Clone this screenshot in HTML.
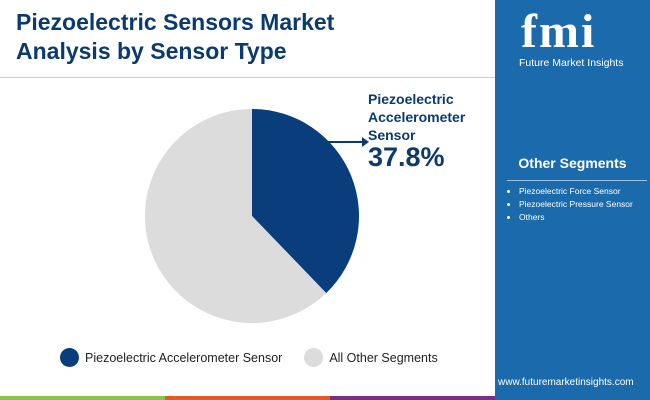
<!DOCTYPE html>
<html><head><meta charset="utf-8"><style>
body{margin:0;width:650px;height:400px;position:relative;overflow:hidden;background:#fff;font-family:"Liberation Sans",sans-serif}
.abs{position:absolute}
</style></head><body>
<div class="abs" style="left:16px;top:8px;font-size:23px;font-weight:bold;color:#0b3a6e;line-height:29px">Piezoelectric Sensors Market<br>Analysis by Sensor Type</div>
<div class="abs" style="left:0;top:77px;width:495px;height:1px;background:#ccc"></div>
<svg class="abs" style="left:0;top:0" width="495" height="400">
<g id="pie"></g>
<path d="M328 142 L362 142" stroke="#0b3a6e" stroke-width="2" fill="none"/>
<path d="M362 137 L369 142 L362 147 Z" fill="#0b3a6e"/>
</svg>
<div class="abs" style="left:368px;top:90px;font-size:14px;font-weight:bold;color:#0b3a6e;line-height:18px">Piezoelectric<br>Accelerometer<br>Sensor</div>
<div class="abs" style="left:368px;top:142px;font-size:27px;font-weight:bold;color:#0b3a6e">37.8%</div>
<div class="abs" style="left:60px;top:348px;font-size:12.5px;color:#222;display:flex;align-items:center">
<span style="width:19px;height:19px;border-radius:50%;background:#0a3d7c;display:inline-block;margin-right:6px"></span><span>Piezoelectric Accelerometer Sensor</span>
<span style="width:19px;height:19px;border-radius:50%;background:#dcdcdc;display:inline-block;margin:0 6px 0 22px"></span><span>All Other Segments</span>
</div>
<div class="abs" style="left:0;top:396px;width:165px;height:4px;background:#8bc34a"></div>
<div class="abs" style="left:165px;top:396px;width:165px;height:4px;background:#e35a26"></div>
<div class="abs" style="left:330px;top:396px;width:165px;height:4px;background:#7b2d8b"></div>
<div class="abs" style="left:495px;top:0;width:155px;height:400px;background:#1b6aac;color:#fff">
<div style="position:absolute;left:26px;top:4px;font-size:48px;font-weight:bold;font-family:'Liberation Serif',serif;letter-spacing:2px">fmi</div>
<div style="position:absolute;left:24px;top:57px;font-size:10.5px">Future Market Insights</div>
<div style="position:absolute;left:0;width:155px;text-align:center;top:155px;font-size:14px;font-weight:bold">Other Segments</div>
<div style="position:absolute;left:12px;top:180px;width:140px;height:1px;background:#9cc1e0"></div>
<ul style="position:absolute;left:0;top:185px;margin:0;padding-left:24px;font-size:8.5px;line-height:13px">
<li>Piezoelectric Force Sensor</li>
<li>Piezoelectric Pressure Sensor</li>
<li>Others</li>
</ul>
<div style="position:absolute;left:3px;top:377px;font-size:10px">www.futuremarketinsights.com</div>
</div>
<script>
const categories=["Piezoelectric Accelerometer Sensor","All Other Segments"];
const values=[37.8,62.2];
const colors=["#0a3d7c","#dcdcdc"];
const g=document.getElementById('pie');
const cx=252,cy=216,r=107;
const total=values.reduce((a,b)=>a+b,0);
let a0=-Math.PI/2;
values.forEach((v,i)=>{
  const a1=a0+v/total*2*Math.PI;
  const large=(a1-a0)>Math.PI?1:0;
  const p=document.createElementNS('http://www.w3.org/2000/svg','path');
  p.setAttribute('d',`M${cx} ${cy} L${cx+r*Math.cos(a0)} ${cy+r*Math.sin(a0)} A${r} ${r} 0 ${large} 1 ${cx+r*Math.cos(a1)} ${cy+r*Math.sin(a1)} Z`);
  p.setAttribute('fill',colors[i]);
  
  
  g.appendChild(p);
  a0=a1;
});
</script>
</body></html>
